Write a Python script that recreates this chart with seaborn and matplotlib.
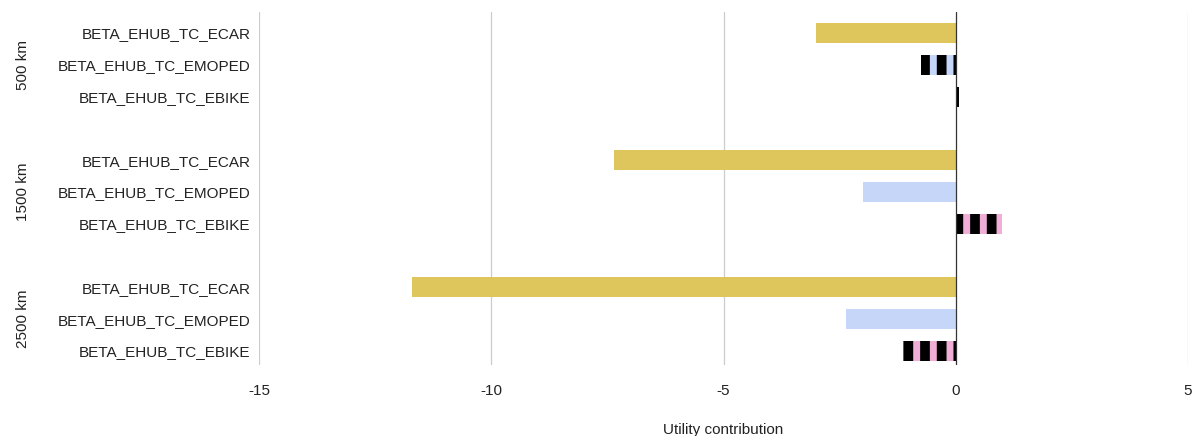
import matplotlib
matplotlib.use("Agg")
import matplotlib.pyplot as plt
import seaborn as sns
import pandas as pd
import numpy as np

# Utility contributions per distance band and mode
distances = ["500 km", "1500 km", "2500 km"]
parameters = ["BETA_EHUB_TC_ECAR", "BETA_EHUB_TC_EMOPED", "BETA_EHUB_TC_EBIKE"]
ecar = [-3.0, -7.35, -11.7]
emoped = [-0.75, -2.0, -2.37]
ebike = [0.08, 1.0, -1.13]
# bars drawn with the striped fill
striped = {("500 km", "BETA_EHUB_TC_EMOPED"), ("500 km", "BETA_EHUB_TC_EBIKE"),
           ("1500 km", "BETA_EHUB_TC_EBIKE"), ("2500 km", "BETA_EHUB_TC_EBIKE")}
x_ticks = [-15, -10, -5, 0, 5]

colors = {"BETA_EHUB_TC_ECAR": "#DEC55C",
          "BETA_EHUB_TC_EMOPED": "#C5D6F9",
          "BETA_EHUB_TC_EBIKE": "#F0AED6"}

rows = []
for g, d in enumerate(distances):
    for k, (p, vals) in enumerate(zip(parameters, [ecar, emoped, ebike])):
        rows.append({"distance": d, "parameter": p, "value": vals[g],
                     "pos": g * 4 + k})
df = pd.DataFrame(rows)

sns.set_style("white")
plt.rcParams["font.family"] = ["Liberation Sans", "DejaVu Sans"]
plt.rcParams["hatch.linewidth"] = 7.0
plt.rcParams["hatch.color"] = "black"

fig = plt.figure(figsize=(11.97, 4.36), dpi=100)
ax = fig.add_axes([259 / 1197, 1 - 365 / 436, (1188 - 259) / 1197, (365 - 12) / 436])

sns.barplot(data=df, x="value", y="pos", hue="parameter", palette=colors,
            orient="h", native_scale=True, width=0.63, dodge=False,
            legend=False, ax=ax, linewidth=0, saturation=1)

# apply stripes to the marked bars
for patch in ax.patches:
    yc = patch.get_y() + patch.get_height() / 2
    idx = int(round(yc))
    row = df[df["pos"] == idx]
    if len(row) and (row.iloc[0]["distance"], row.iloc[0]["parameter"]) in striped:
        patch.set_hatch("|")
        patch.set_edgecolor("black")
        patch.set_linewidth(0)

fs = 11
ax.set_xlim(-15, 5)
ax.set_ylim(10.44, -0.66)
ax.set_xticks(x_ticks)
ax.set_xticklabels([str(t) for t in x_ticks], fontsize=fs, color="#222222")
ax.set_yticks(df["pos"])
ax.set_yticklabels(df["parameter"], fontsize=fs, color="#222222")
ax.tick_params(axis="y", length=0, pad=6)
ax.tick_params(axis="x", length=0, pad=14)

for t in x_ticks:
    if t != 0:
        ax.axvline(t, color="#CCCCCC", linewidth=0.9, zorder=0)
ax.axvline(0, color="#333333", linewidth=0.9, zorder=3)
for s in ax.spines.values():
    s.set_visible(False)

ax.set_xlabel("Utility contribution", fontsize=fs, color="#222222", labelpad=18)
ax.set_ylabel("")

# distance band labels
for g, d in enumerate(distances):
    yc = g * 4 + 1
    ypix = 33 + yc * 31.8
    fig.text(23 / 1197, 1 - ypix / 436, d, rotation=90, ha="center", va="center",
             fontsize=fs, color="#222222")

fig.savefig("out.png", dpi=100)
